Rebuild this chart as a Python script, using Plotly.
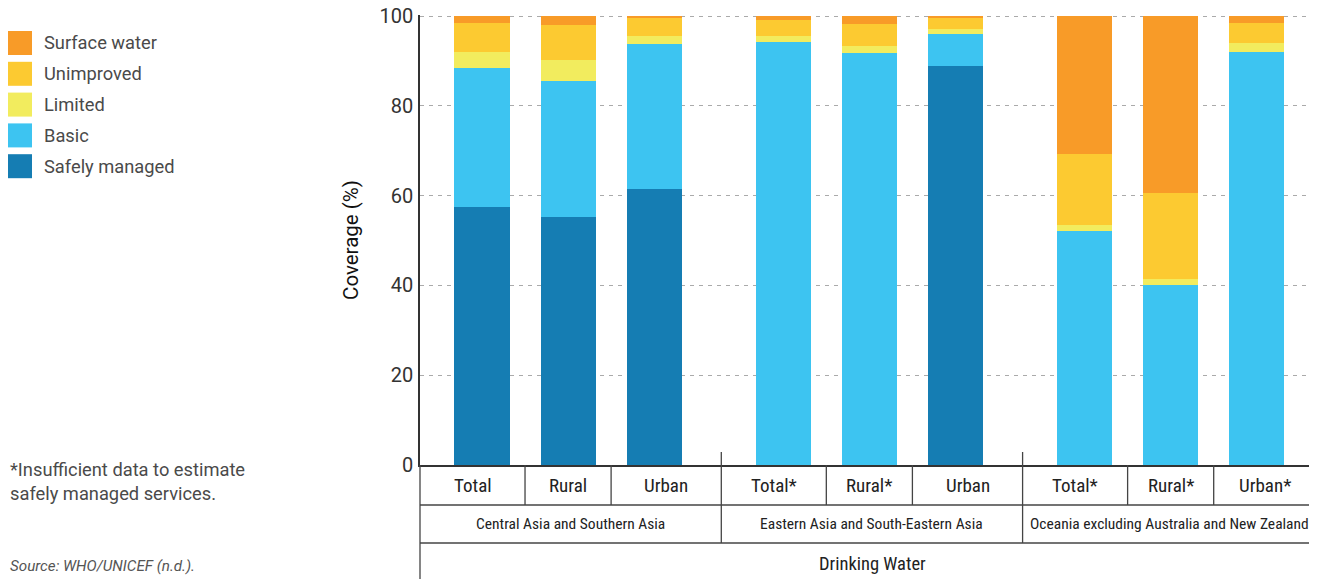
import plotly.graph_objects as go

categories = ["Total", "Rural", "Urban", "Total*", "Rural*", "Urban", "Total*", "Rural*", "Urban*"]
regions = ["Central Asia and Southern Asia",
           "Eastern Asia and South-Eastern Asia",
           "Oceania excluding Australia and New Zealand"]
service = "Drinking Water"
positions = [0, 1, 2, 3.5, 4.5, 5.5, 7, 8, 9]

safely_managed = [57.5, 55.2, 61.5, None, None, 88.9, None, None, None]
basic = [30.9, 30.3, 32.3, 94.2, 91.8, 7.1, 52.1, 40.1, 92.0]
limited = [3.6, 4.7, 1.7, 1.3, 1.5, 1.1, 1.4, 1.3, 2.0]
unimproved = [6.4, 7.8, 4.1, 3.6, 4.9, 2.5, 15.8, 19.2, 4.4]
surface_water = [1.6, 2.0, 0.4, 0.9, 1.8, 0.4, 30.7, 39.4, 1.6]

series = [
    ("Safely managed", safely_managed, "#157db3"),
    ("Basic", basic, "#3dc4f1"),
    ("Limited", limited, "#f2ec5e"),
    ("Unimproved", unimproved, "#fcca31"),
    ("Surface water", surface_water, "#f89b28"),
]

OFF = 8  # page body margin
W, H = 1317 - OFF, 579 - OFF
L, T = 412, 7
PW, PH = W - L, 450
B = H - T - PH
XMIN, XMAX = -0.72, 9.7
YMAX = 100.25  # a hair above 100 so the top grid line is kept
FONT = "Roboto, Noto Sans, sans-serif"
NARROW = "Roboto Condensed, Liberation Sans Narrow, Arial Narrow, Roboto"


def pxx(x):  # page pixel -> paper x
    return (x - OFF - L) / PW


def pxy(y):  # page pixel -> paper y
    return (H - B - (y - OFF)) / PH


def dx(x):  # data x -> paper x
    return (x - XMIN) / (XMAX - XMIN)


fig = go.Figure()
for name, vals, col in series:
    fig.add_trace(go.Bar(x=positions, y=vals, name=name, width=0.64,
                         marker=dict(color=col, line_width=0), showlegend=False))

shapes = []
annotations = []

# manual legend (top item first)
for i, (name, vals, col) in enumerate(reversed(series)):
    top = 31 + i * 30.8
    shapes.append(dict(type="rect", xref="paper", yref="paper", x0=pxx(8), x1=pxx(32),
                       y0=pxy(top), y1=pxy(top + 24), fillcolor=col, line_width=0))
    annotations.append(dict(x=pxx(42), y=pxy(top + 12), xref="paper", yref="paper", text=name,
                            showarrow=False, xanchor="left", yanchor="middle",
                            font=dict(family=FONT, size=18.3, color="#4a4a4a")))

# bottom table
line = dict(color="#444", width=1.3)
mids = [(positions[i] + positions[i + 1]) / 2 for i in range(len(positions) - 1)]
group_edges = [2.78, 6.28]
inner = [m for k, m in enumerate(mids) if k not in (2, 5)]
edges = [XMIN] + mids[:2] + [group_edges[0]] + mids[3:5] + [group_edges[1]] + mids[6:] + [XMAX]
for m in inner:
    shapes.append(dict(type="line", xref="paper", yref="paper", x0=dx(m), x1=dx(m),
                       y0=pxy(465), y1=pxy(505), line=line))
for m in group_edges:
    shapes.append(dict(type="line", xref="paper", yref="paper", x0=dx(m), x1=dx(m),
                       y0=pxy(452), y1=pxy(543), line=line))
for yy in (505, 543):
    shapes.append(dict(type="line", xref="paper", yref="paper", x0=0, x1=1,
                       y0=pxy(yy), y1=pxy(yy), line=line))
shapes.append(dict(type="line", xref="paper", yref="paper", x0=0, x1=0,
                   y0=pxy(465), y1=pxy(579), line=line))

for i, c in enumerate(categories):
    annotations.append(dict(x=(edges[i] + edges[i + 1]) / 2, y=pxy(485), xref="x", yref="paper",
                            text=c, showarrow=False, xanchor="center", yanchor="middle",
                            font=dict(family=NARROW, size=19, color="#222")))
reg_edges = [XMIN] + group_edges + [XMAX]
for i, r in enumerate(regions):
    annotations.append(dict(x=(reg_edges[i] + reg_edges[i + 1]) / 2, y=pxy(524), xref="x",
                            yref="paper", text=r, showarrow=False, xanchor="center",
                            yanchor="middle", font=dict(family=NARROW, size=15.5, color="#222")))
annotations.append(dict(x=pxx(872), y=pxy(564), xref="paper", yref="paper", text=service,
                        showarrow=False, xanchor="center", yanchor="middle",
                        font=dict(family=NARROW, size=18.5, color="#222")))

# notes
annotations.append(dict(x=pxx(8), y=pxy(482), xref="paper", yref="paper", align="left",
                        text="*Insufficient data to estimate<br>safely managed services.",
                        showarrow=False, xanchor="left", yanchor="middle",
                        font=dict(family=FONT, size=18.3, color="#4a4a4a")))
annotations.append(dict(x=pxx(8), y=pxy(566), xref="paper", yref="paper",
                        text="<i>Source: WHO/UNICEF (n.d.).</i>",
                        showarrow=False, xanchor="left", yanchor="middle",
                        font=dict(family=FONT, size=15.2, color="#555")))

fig.update_layout(
    width=W, height=H, barmode="stack",
    margin=dict(l=L, r=0, t=T, b=B),
    plot_bgcolor="white", paper_bgcolor="white",
    font=dict(family=FONT, size=18, color="#333"),
    xaxis=dict(range=[XMIN, XMAX], showticklabels=False, showgrid=False, zeroline=False,
               showline=True, linecolor="#333", linewidth=1.5, ticks="", automargin=False),
    yaxis=dict(range=[0, YMAX], tickvals=[0, 20, 40, 60, 80, 100], showgrid=True,
               gridcolor="#aaa", griddash="4px,5px", gridwidth=1.2, zeroline=False,
               showline=True, linecolor="#333", linewidth=1.5, ticks="",
               ticklabelstandoff=1, ticklabeloverflow="allow", automargin=False,
               tickfont=dict(family=FONT, size=20, color="#333"),
               title=dict(text="Coverage (%)", standoff=15,
                          font=dict(family=FONT, size=20.5, color="#111"))),
    shapes=shapes, annotations=annotations,
)

fig.write_html("out.html")
